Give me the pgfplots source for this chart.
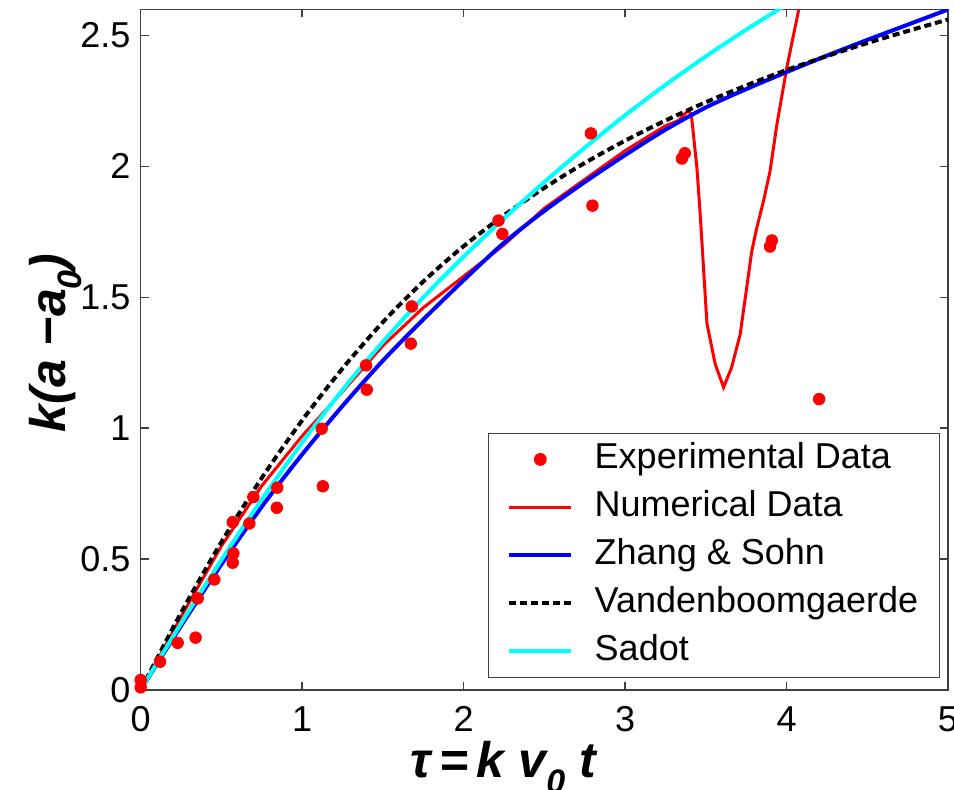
\documentclass[border=0pt]{standalone}
\usepackage{fontspec}
\setmainfont{Liberation Sans}
\usepackage{pgfplots}
\pgfplotsset{compat=1.18}

\definecolor{mred}{rgb}{1,0,0}
\definecolor{mblue}{rgb}{0,0,1}
\definecolor{mcyan}{rgb}{0,1,1}

% lowered subscript, as in the original labels
\newcommand{\low}[1]{\raisebox{-0.32em}{\fontsize{17}{17}\selectfont #1}}

\pgfplotsset{
    linelegend/.style={legend image code/.code={\draw[##1] (0pt,0pt) -- (31pt,0pt);}},
    dotlegend/.style={legend image code/.code={\draw[mark repeat=2,mark phase=2,##1] plot coordinates {(0pt,0pt) (15.5pt,0pt) (31pt,0pt)};}},
}

\begin{document}
\begin{tikzpicture}
\begin{axis}[
    name=ax,
    scale only axis,
    width=403.65pt, height=340.35pt,
    xmin=0, xmax=5, ymin=0, ymax=2.6,
    xtick={0,1,2,3,4,5},
    ytick={0,0.5,1,1.5,2,2.5},
    /pgf/number format/assume math mode=true,
    tick label style={font=\fontsize{18}{20}\selectfont, inner sep=0pt},
    xticklabel style={yshift=-8pt},
    yticklabel style={xshift=-5pt},
    major tick length=4pt,
    axis line style={black!75, line width=0.75pt},
    every tick/.style={black!75, line width=0.75pt},
    xlabel={τ\,=\,k v\low{0} t},
    ylabel={k(a −a\low{0})},
    label style={font=\fontsize{25}{30}\selectfont\bfseries\itshape},
    xlabel style={at={(axis description cs:0.449,-0.129)}, anchor=base},
    ylabel style={at={(axis description cs:-0.106,0.51)}, anchor=center},
    legend cell align=left,
    linelegend,
    legend style={at={(0.990,0.0176)}, anchor=south east,
        draw=black!75, line width=0.6pt, fill=white,
        inner xsep=9.5pt, inner ysep=3.5pt, row sep=5pt,
        nodes={inner sep=1pt, text height=13pt, text depth=4pt,
               font=\fontsize{18}{20}\selectfont},
        /tikz/every odd column/.append style={column sep=9.7pt}},
]

% Experimental Data
\addplot[only marks, mark=*, mark size=2.9pt, mred, mark options={fill=mred, draw=mred}, dotlegend]
coordinates {
(0,0.038) (0,0.01) (0.12,0.108) (0.229,0.18) (0.34,0.2)
(0.353,0.35) (0.456,0.422) (0.57,0.486) (0.574,0.522) (0.57,0.641)
(0.673,0.636) (0.698,0.737) (0.843,0.696) (0.846,0.773) (1.128,0.778)
(1.121,0.998) (1.40,1.147) (1.396,1.24) (1.673,1.323) (1.679,1.465)
(2.216,1.793) (2.24,1.742) (2.798,1.85) (2.788,2.126) (3.352,2.03)
(3.37,2.05) (3.898,1.694) (3.909,1.717) (4.202,1.111)
};
\addlegendentry{Experimental Data}

% Numerical Data
\addplot[mred, line width=1.5pt] coordinates {
(0,0) (0.1,0.11) (0.25,0.28) (0.5,0.55) (0.75,0.78) (1.0,0.97) (1.25,1.14)
(1.5,1.315) (1.75,1.46) (2.0,1.58) (2.25,1.70) (2.5,1.84) (2.75,1.95)
(3.0,2.06) (3.25,2.155) (3.33,2.175) (3.39,2.213) (3.41,2.20)
(3.445,1.994) (3.465,1.82) (3.507,1.40) (3.558,1.245) (3.61,1.156)
(3.66,1.232) (3.713,1.359) (3.785,1.677) (3.816,1.766) (3.858,1.869)
(3.898,1.982) (3.94,2.159) (4.002,2.378) (4.074,2.594) (4.085,2.64)
};
\addlegendentry{Numerical Data}

% Zhang & Sohn
\addplot[mblue, line width=2pt, smooth] coordinates {
(0,0) (0.25,0.245) (0.5,0.48) (0.75,0.70) (1.0,0.90) (1.25,1.085)
(1.5,1.258) (1.75,1.415) (2.0,1.565) (2.25,1.708) (2.5,1.83) (2.75,1.94)
(3.0,2.043) (3.25,2.14) (3.5,2.225) (3.75,2.295) (4.0,2.36) (4.25,2.423)
(4.5,2.483) (4.75,2.541) (5.0,2.599)
};
\addlegendentry{Zhang \& Sohn}

% Vandenboomgaerde
\addplot[black, line width=2pt, dash pattern=on 3.5pt off 2pt, smooth] coordinates {
(0,0) (0.25,0.295) (0.5,0.565) (0.75,0.81) (1.0,1.03) (1.25,1.228)
(1.5,1.405) (1.75,1.56) (2.0,1.695) (2.25,1.813) (2.5,1.918) (2.75,2.013)
(3.0,2.098) (3.25,2.175) (3.5,2.245) (3.75,2.309) (4.0,2.368) (4.25,2.421)
(4.5,2.471) (4.75,2.517) (5.0,2.561)
};
\addlegendentry{Vandenboomgaerde}

% Sadot
\addplot[mcyan, line width=2pt, smooth] coordinates {
(0,0) (0.25,0.254) (0.5,0.497) (0.75,0.728) (1.0,0.945) (1.25,1.146)
(1.5,1.330) (1.75,1.499) (2.0,1.655) (2.25,1.801) (2.5,1.940) (2.75,2.071)
(3.0,2.195) (3.25,2.311) (3.5,2.420) (3.75,2.522) (4.0,2.618)
};
\addlegendentry{Sadot}

\end{axis}
\pgfresetboundingbox
\path ([shift={(-70.35pt,-50pt)}]ax.south west) rectangle ([shift={(3pt,4.65pt)}]ax.north east);
\end{tikzpicture}
\end{document}
